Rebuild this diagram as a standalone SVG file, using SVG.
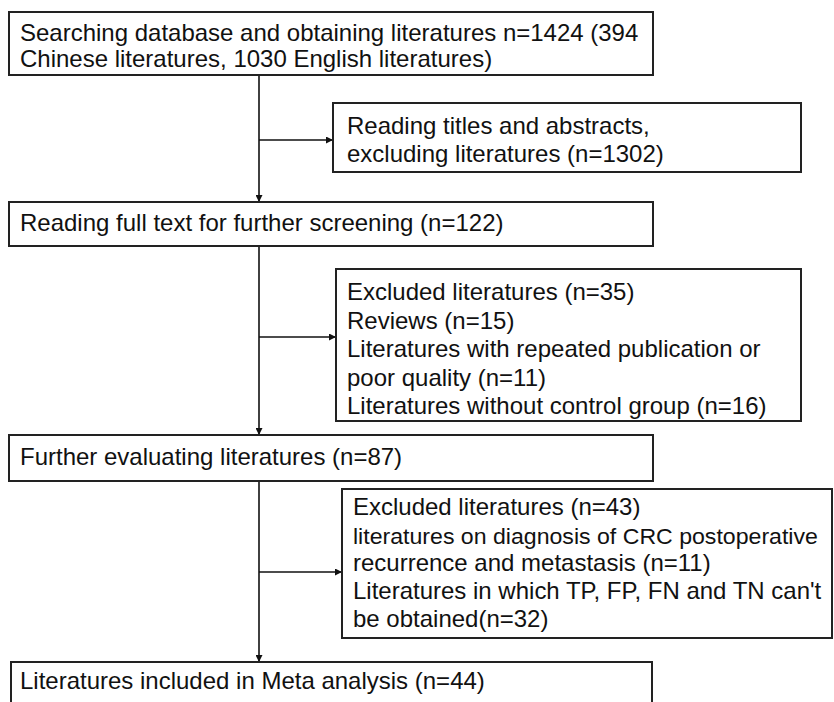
<svg xmlns="http://www.w3.org/2000/svg" width="834" height="702" viewBox="0 0 834 702">
<defs>
<marker id="ah" viewBox="0 0 10 10" refX="10" refY="5" markerWidth="7" markerHeight="7" orient="auto" markerUnits="userSpaceOnUse"><path d="M0,0 L10,5 L0,10 z" fill="#111"/></marker>
<style>
.box{fill:#fff;stroke:#222;stroke-width:2}
.t{font-family:"Liberation Sans",Arial,sans-serif;font-size:23px;fill:#111}
.c{stroke:#111;stroke-width:1.6;fill:none}
</style>
</defs>
<rect width="834" height="702" fill="#fff"/>
<g id="connectors">
<line class="c" x1="259" y1="75" x2="259" y2="202" marker-end="url(#ah)"/>
<line class="c" x1="259" y1="140" x2="333" y2="140" marker-end="url(#ah)"/>
<line class="c" x1="259" y1="246" x2="259" y2="435" marker-end="url(#ah)"/>
<line class="c" x1="259" y1="337" x2="336" y2="337" marker-end="url(#ah)"/>
<line class="c" x1="259" y1="481" x2="259" y2="662" marker-end="url(#ah)"/>
<line class="c" x1="259" y1="572" x2="342" y2="572" marker-end="url(#ah)"/>
</g>
<g id="n1">
<rect class="box" x="9" y="12" width="644" height="63"/>
<g transform="scale(1.0435,1)">
<text class="t" x="19.17" y="41">Searching database and obtaining literatures n=1424 (394</text>
<text class="t" x="19.17" y="67">Chinese literatures, 1030 English literatures)</text>
</g>
</g>
<g id="n2">
<rect class="box" x="333" y="103" width="468" height="69"/>
<g transform="scale(1.0435,1)">
<text class="t" x="332.54" y="134">Reading titles and abstracts,</text>
<text class="t" x="332.54" y="162">excluding literatures (n=1302)</text>
</g>
</g>
<g id="n3">
<rect class="box" x="9" y="202" width="644" height="44"/>
<g transform="scale(1.0435,1)">
<text class="t" x="19.17" y="231">Reading full text for further screening (n=122)</text>
</g>
</g>
<g id="n4">
<rect class="box" x="336" y="269" width="465" height="152"/>
<g transform="scale(1.0435,1)">
<text class="t" x="332.54" y="300">Excluded literatures (n=35)</text>
<text class="t" x="332.54" y="329">Reviews (n=15)</text>
<text class="t" x="332.54" y="357">Literatures with repeated publication or</text>
<text class="t" x="332.54" y="386">poor quality (n=11)</text>
<text class="t" x="332.54" y="414">Literatures without control group (n=16)</text>
</g>
</g>
<g id="n5">
<rect class="box" x="9" y="435" width="644" height="46"/>
<g transform="scale(1.0435,1)">
<text class="t" x="19.17" y="465">Further evaluating literatures (n=87)</text>
</g>
</g>
<g id="n6">
<rect class="box" x="342" y="489" width="490" height="149"/>
<g transform="scale(1.0435,1)">
<text class="t" x="338.29" y="515">Excluded literatures (n=43)</text>
<text class="t" x="338.29" y="571">recurrence and metastasis (n=11)</text>
<text class="t" x="338.29" y="599">Literatures in which TP, FP, FN and TN can't</text>
<text class="t" x="338.29" y="627">be obtained(n=32)</text>
</g>
<g transform="scale(1.005,1)">
<text class="t" x="351.24" y="544">literatures on diagnosis of CRC postoperative</text>
</g>
</g>
<g id="n7">
<rect class="box" x="11" y="662" width="641" height="50"/>
<g transform="scale(1.0435,1)">
<text class="t" x="19.17" y="689">Literatures included in Meta analysis (n=44)</text>
</g>
</g>
</svg>
